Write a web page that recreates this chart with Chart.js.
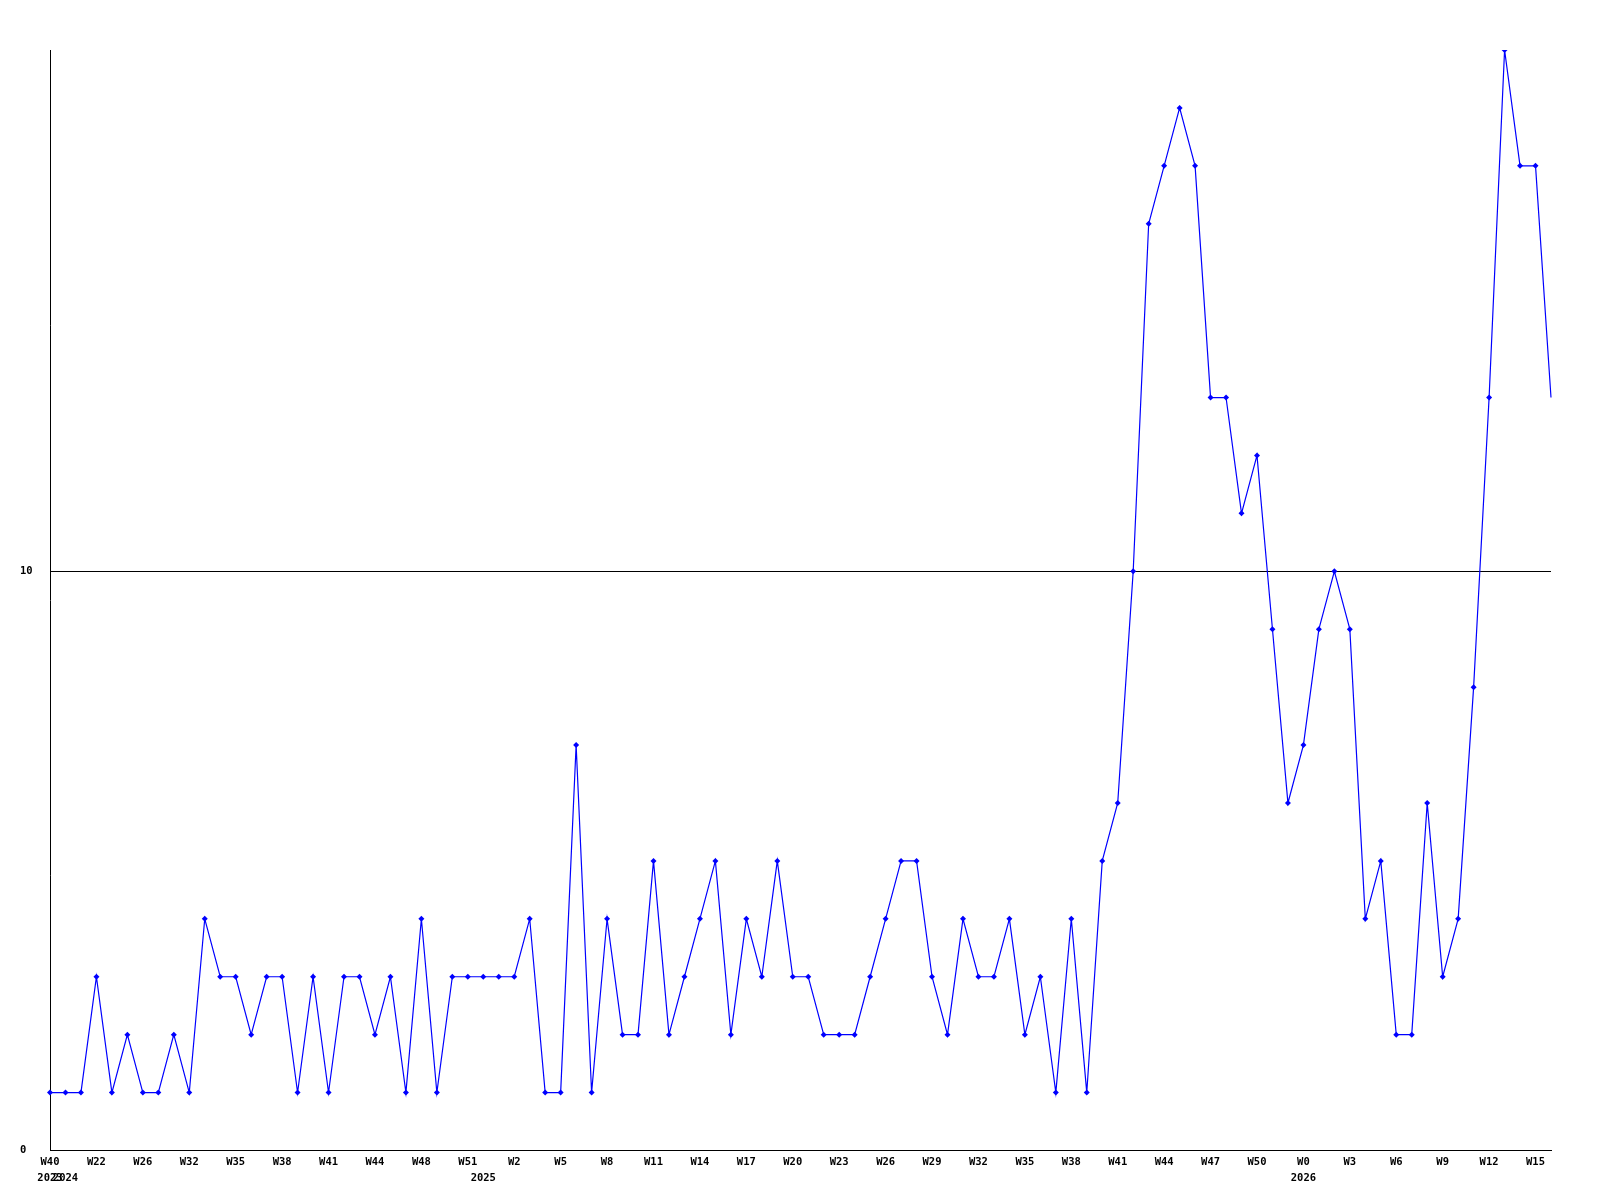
<!DOCTYPE html>
<html>
<head>
<meta charset="utf-8">
<script src="https://cdn.jsdelivr.net/npm/chart.js@4/dist/chart.umd.min.js"></script>
<style>
  body { margin: 0; background: #fff; }
  canvas { display: block; }
</style>
</head>
<body>
<canvas id="grafico" width="1600" height="1200"></canvas>
<script>
// semanas (uma por ponto), so 1 em cada 3 aparece no eixo
const semanas = [
  "W40", "W20", "W21", "W22", "W23", "W25", "W26", "W28", "W30", "W32",
  "W33", "W34", "W35", "W36", "W37", "W38", "W39", "W40", "W41", "W42",
  "W43", "W44", "W45", "W47", "W48", "W49", "W50", "W51", "W0", "W1",
  "W2", "W3", "W4", "W5", "W6", "W7", "W8", "W9", "W10", "W11",
  "W12", "W13", "W14", "W15", "W16", "W17", "W18", "W19", "W20", "W21",
  "W22", "W23", "W24", "W25", "W26", "W27", "W28", "W29", "W30", "W31",
  "W32", "W33", "W34", "W35", "W36", "W37", "W38", "W39", "W40", "W41",
  "W42", "W43", "W44", "W45", "W46", "W47", "W48", "W49", "W50", "W51",
  "W52", "W0", "W1", "W2", "W3", "W4", "W5", "W6", "W7", "W8",
  "W9", "W10", "W11", "W12", "W13", "W14", "W15", "W16"
];

// ano, na primeira semana de cada ano
const anos = { 0: "2023", 1: "2024", 28: "2025", 81: "2026" };

const valores = [
  1, 1, 1, 3, 1, 2, 1, 1, 2, 1,
  4, 3, 3, 2, 3, 3, 1, 3, 1, 3,
  3, 2, 3, 1, 4, 1, 3, 3, 3, 3,
  3, 4, 1, 1, 7, 1, 4, 2, 2, 5,
  2, 3, 4, 5, 2, 4, 3, 5, 3, 3,
  2, 2, 2, 3, 4, 5, 5, 3, 2, 4,
  3, 3, 4, 2, 3, 1, 4, 1, 5, 6,
  10, 16, 17, 18, 17, 13, 13, 11, 12, 9,
  6, 7, 9, 10, 9, 4, 5, 2, 2, 6,
  3, 4, 8, 13, 19, 17, 17, 13
];

const yTicks = [0, 10];

const fonte = { family: "'DejaVu Sans Mono', monospace", size: 10.5, weight: "bold", lineHeight: 1.5 };

const ctx = document.getElementById("grafico");

new Chart(ctx, {
  type: "line",
  data: {
    labels: semanas,
    datasets: [{
      data: valores,
      borderColor: "#0000ff",
      backgroundColor: "#0000ff",
      borderWidth: 1.2,
      tension: 0,
      pointStyle: "rectRot",
      pointRadius: c => c.dataIndex === valores.length - 1 ? 0 : 3,
      pointBorderWidth: 0,
      pointBackgroundColor: "#0000ff"
    }]
  },
  options: {
    responsive: false,
    animation: false,
    layout: { padding: { top: 50, right: 49, bottom: 10, left: 20 } },
    plugins: { legend: { display: false }, tooltip: { enabled: false } },
    scales: {
      x: {
        offset: false,
        grid: { display: false, drawTicks: false },
        border: { display: true, color: "#000", width: 1 },
        ticks: {
          autoSkip: false,
          maxRotation: 0,
          minRotation: 0,
          padding: 4,
          color: "#000",
          font: fonte,
          callback: (v, i) => {
            const semana = i % 3 === 0 ? semanas[i] : "";
            return anos[i] ? [semana, anos[i]] : semana;
          }
        }
      },
      y: {
        min: 0,
        max: 19,
        afterBuildTicks: scale => { scale.ticks = yTicks.map(v => ({ value: v })); },
        afterFit: scale => { scale.width = 30; },
        grid: { color: "#000", lineWidth: 1, drawTicks: false },
        border: { display: true, color: "#000", width: 1 },
        ticks: {
          crossAlign: "far",
          padding: 17,
          color: "#000",
          font: fonte
        }
      }
    }
  }
});
</script>
</body>
</html>
